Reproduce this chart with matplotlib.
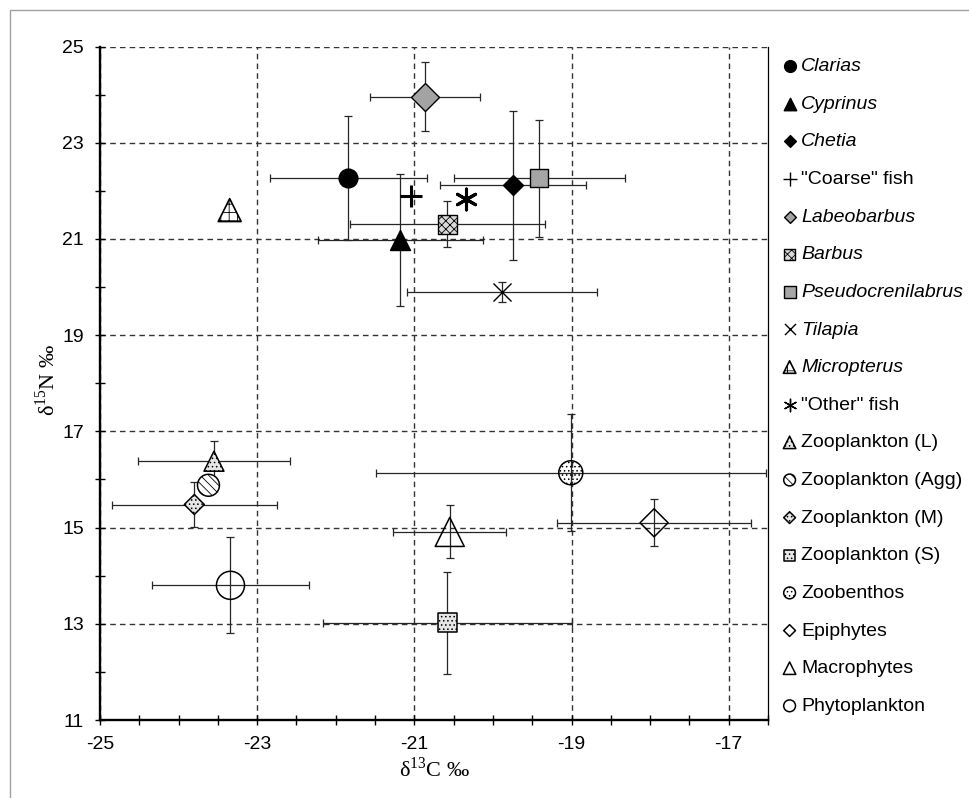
import numpy as np
import matplotlib
matplotlib.use('Agg')
import matplotlib.pyplot as plt
from matplotlib.patches import Rectangle
from matplotlib.ticker import MultipleLocator

plt.rcParams['font.family'] = ['Liberation Sans', 'DejaVu Sans']
plt.rcParams['hatch.linewidth'] = 0.6
plt.rcParams['axes.unicode_minus'] = False

# data (mean and sd of d13C / d15N)
groups = ['Clarias', 'Cyprinus', 'Chetia', '"Coarse" fish', 'Labeobarbus',
          'Barbus', 'Pseudocrenilabrus', 'Tilapia', 'Micropterus', '"Other" fish',
          'Zooplankton (L)', 'Zooplankton (Agg)', 'Zooplankton (M)', 'Zooplankton (S)',
          'Zoobenthos', 'Epiphytes', 'Macrophytes', 'Phytoplankton']
d13c = [-21.84, -21.18, -19.74, -21.04, -20.86, -20.58, -19.41, -19.89, -23.35, -20.34,
        -23.55, -23.62, -23.80, -20.58, -19.01, -17.95, -20.55, -23.34]
d15n = [22.26, 20.98, 22.12, 21.89, 23.96, 21.31, 22.26, 19.90, 21.60, 21.84,
        16.38, 15.88, 15.48, 13.02, 16.14, 15.10, 14.91, 13.80]
sd_c = [1.00, 1.05, 0.93, 0.0, 0.70, 1.24, 1.09, 1.21, 0.0, 0.0,
        0.97, 0.0, 1.05, 1.58, 2.48, 1.23, 0.72, 1.00]
sd_n = [1.29, 1.38, 1.55, 0.0, 0.72, 0.47, 1.21, 0.21, 0.0, 0.0,
        0.42, 0.0, 0.47, 1.06, 1.22, 0.49, 0.55, 1.00]
italic = {'Clarias', 'Cyprinus', 'Chetia', 'Labeobarbus', 'Barbus',
          'Pseudocrenilabrus', 'Tilapia', 'Micropterus'}
x_ticks = [-25, -23, -21, -19, -17]
y_ticks = [11, 13, 15, 17, 19, 21, 23, 25]

# marker styles: marker, face, hatch, size in plot (pt), size in legend (pt), line width
styles = {
    'Clarias':           ('o', 'black', None, 13.5, 8.5, 1.0),
    'Cyprinus':          ('^', 'black', None, 14.4, 9.0, 1.0),
    'Chetia':            ('D', 'black', None, 10.2, 6.0, 1.0),
    '"Coarse" fish':     ('+', None, None, 15.5, 10.0, 2.2),
    'Labeobarbus':       ('D', '#a3a3a3', None, 14.3, 6.0, 1.0),
    'Barbus':            ('s', '#d9d9d9', 'xxxx', 13.7, 8.0, 1.0),
    'Pseudocrenilabrus': ('s', '#a6a6a6', None, 13.2, 8.0, 1.0),
    'Tilapia':           ('x', None, None, 13.0, 8.0, 1.0),
    'Micropterus':       ('^', 'white', '++', 16.5, 9.0, 1.2),
    '"Other" fish':      ((6, 2, 0), None, None, 15.0, 9.0, 2.2),
    'Zooplankton (L)':   ('^', '#e6e6e6', '....', 14.4, 9.0, 1.1),
    'Zooplankton (Agg)': ('o', 'white', '\\\\\\\\', 15.8, 8.5, 1.1),
    'Zooplankton (M)':   ('D', '#e6e6e6', '....', 10.2, 6.0, 1.1),
    'Zooplankton (S)':   ('s', '#e6e6e6', '....', 13.7, 8.0, 1.1),
    'Zoobenthos':        ('o', 'none', '....', 17.3, 8.5, 1.1),
    'Epiphytes':         ('D', 'none', None, 14.3, 6.0, 1.1),
    'Macrophytes':       ('^', 'none', None, 20.9, 9.0, 1.1),
    'Phytoplankton':     ('o', 'none', None, 20.2, 8.5, 1.1),
}

fig = plt.figure(figsize=(9.7, 7.98), dpi=100)
ax = fig.add_axes([0.1031, 0.0977, 0.6887, 0.8440])

handles = []
for g, x, y, sx, sy in zip(groups, d13c, d15n, sd_c, sd_n):
    mk, fc, hatch, size, lsize, lw = styles[g]
    if sx > 0 or sy > 0:
        ax.errorbar(x, y, xerr=sx if sx > 0 else None, yerr=sy if sy > 0 else None,
                    fmt='none', ecolor='#262626', elinewidth=0.9, capsize=3.2,
                    capthick=0.9, zorder=2)
    if fc is None:
        kw = dict(color='black', linewidths=lw)
    else:
        kw = dict(facecolors=fc, edgecolors='black', linewidths=lw, hatch=hatch)
    ax.scatter([x], [y], marker=mk, s=size ** 2, zorder=3, **kw)
    kw_leg = dict(kw)
    if fc is None:
        kw_leg['linewidths'] = 1.0
    handles.append(ax.scatter([], [], marker=mk, s=lsize ** 2, **kw_leg))

ax.set_xlim(-25, -16.5)
ax.set_ylim(11, 25)
ax.set_xticks(x_ticks)
ax.set_yticks(y_ticks)
ax.xaxis.set_minor_locator(MultipleLocator(0.5))
ax.yaxis.set_minor_locator(MultipleLocator(1))
ax.tick_params(which='both', direction='inout', length=7, width=1.0,
               labelsize=14, pad=8, colors='black')
ax.set_axisbelow(True)
ax.grid(True, which='major', linestyle=(0, (4, 3)), color='#333333', lw=1.0)

for side in ['left', 'bottom']:
    ax.spines[side].set_linewidth(1.7)
ax.spines['top'].set_visible(False)
ax.spines['right'].set_linewidth(0.9)

ax.set_xlabel('δ$^{\\mathregular{13}}$C ‰', fontfamily='Liberation Serif', fontsize=16)
ax.set_ylabel('δ$^{\\mathregular{15}}$N ‰', fontfamily='Liberation Serif', fontsize=16)
ax.xaxis.label.set_va('center')
ax.yaxis.label.set_va('center')
ax.xaxis.set_label_coords(0.5, -0.074)
ax.yaxis.set_label_coords(-0.079, 0.505)

leg = fig.legend(handles, groups, loc='upper left', bbox_to_anchor=(0.807, 0.928),
                 frameon=False, fontsize=14, handlelength=0.7, handletextpad=0.25,
                 labelspacing=1.03, borderpad=0, borderaxespad=0, scatterpoints=1)
for t in leg.get_texts():
    if t.get_text() in italic:
        t.set_fontstyle('italic')

# thin grey frame of the original panel
fig.patches.append(Rectangle((10 / 970, -0.1), 1.2, 1.1 - 10 / 798, fill=False,
                             ec='#a0a0a0', lw=1.0, transform=fig.transFigure))

fig.savefig('out.png', dpi=100)
